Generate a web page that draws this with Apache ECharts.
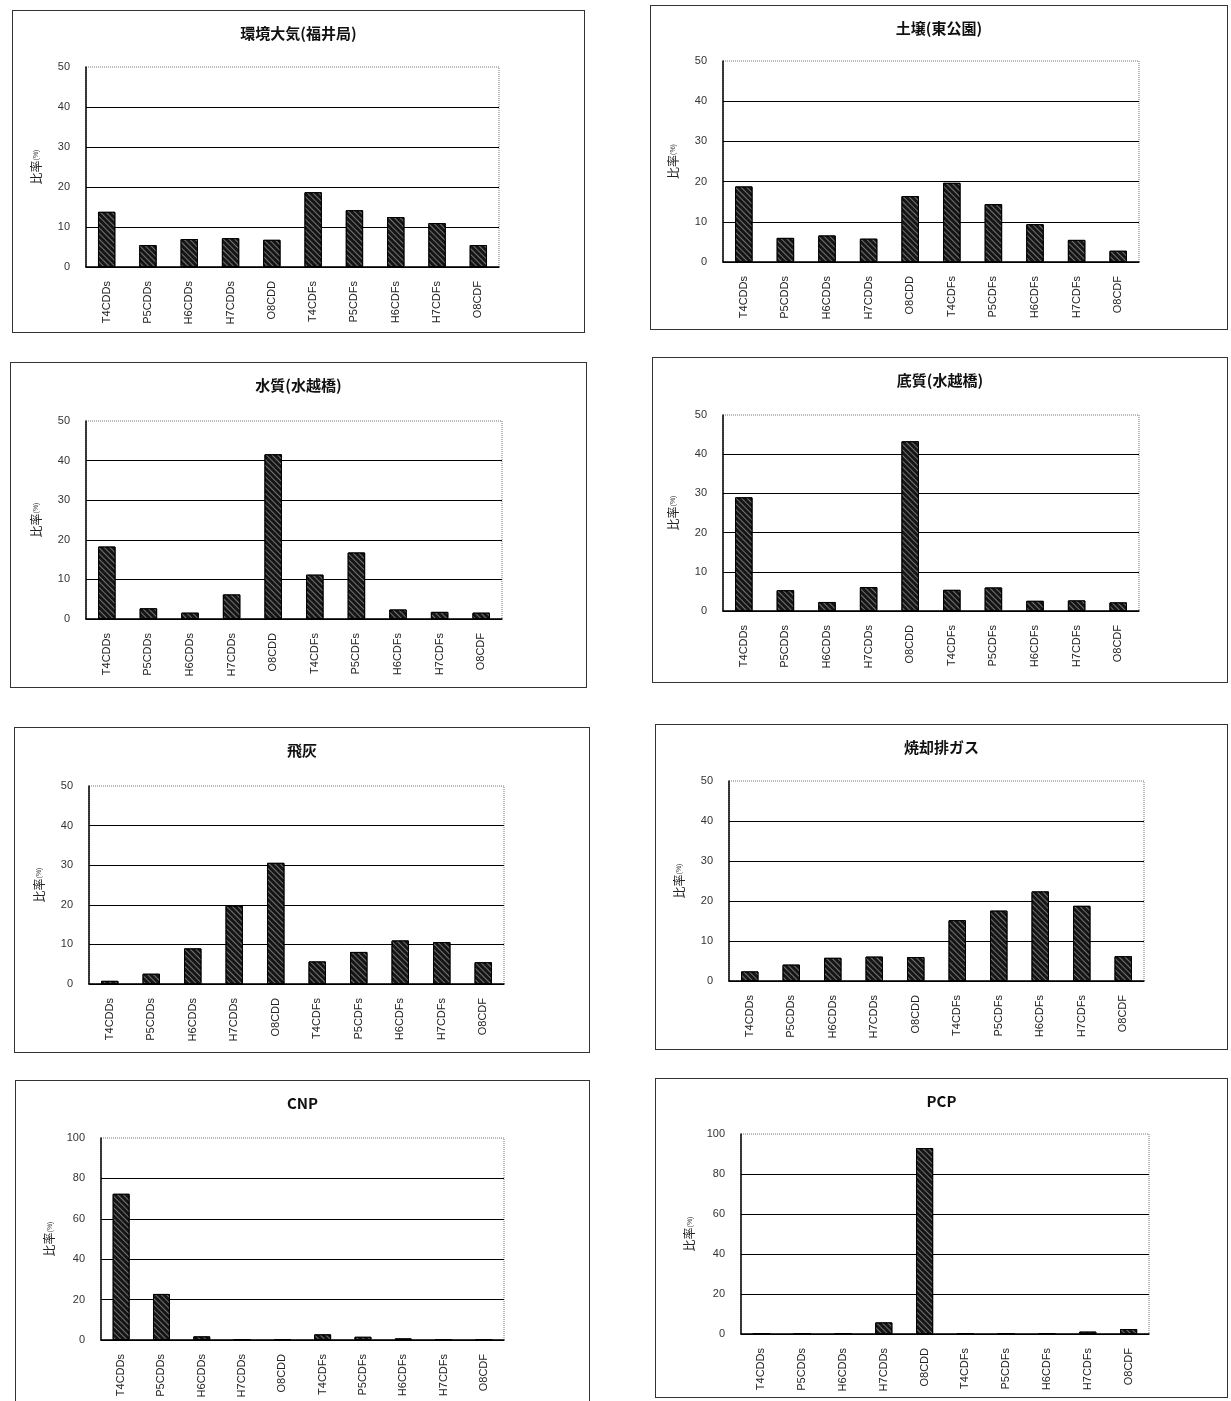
<!DOCTYPE html>
<html>
<head>
<meta charset="utf-8"/>
<title>ダイオキシン類 同族体組成</title>
<script src="https://cdn.jsdelivr.net/npm/echarts@6/dist/echarts.min.js"></script>
<style>
    body { margin:0; background:#fff; width:1231px; height:1401px; position:relative; overflow:hidden; }
    .panel { position:absolute; border:1px solid #333; box-sizing:border-box; background:#fff; }
</style>
</head>
<body>
<div class="panel" id="p0" style="left:12px;top:10px;width:573px;height:323px"></div>
<div class="panel" id="p1" style="left:650px;top:5px;width:578px;height:325px"></div>
<div class="panel" id="p2" style="left:10px;top:362px;width:577px;height:326px"></div>
<div class="panel" id="p3" style="left:652px;top:357px;width:576px;height:326px"></div>
<div class="panel" id="p4" style="left:14px;top:727px;width:576px;height:326px"></div>
<div class="panel" id="p5" style="left:655px;top:724px;width:573px;height:326px"></div>
<div class="panel" id="p6" style="left:15px;top:1080px;width:575px;height:330px"></div>
<div class="panel" id="p7" style="left:655px;top:1078px;width:573px;height:320px"></div>

<script type="text/javascript">
    // 同族体
    var categories = ['T4CDDs', 'P5CDDs', 'H6CDDs', 'H7CDDs', 'O8CDD', 'T4CDFs', 'P5CDFs', 'H6CDFs', 'H7CDFs', 'O8CDF'];
    var titles = ['環境大気(福井局)', '土壌(東公園)', '水質(水越橋)', '底質(水越橋)', '飛灰', '焼却排ガス', 'CNP', 'PCP'];

    // 比率(%)
    var airFukui = [13.8, 5.5, 7.0, 7.2, 6.8, 18.7, 14.2, 12.5, 11.0, 5.5];
    var soilHigashi = [18.8, 6.0, 6.6, 5.8, 16.4, 19.7, 14.4, 9.4, 5.5, 2.8];
    var waterMizukoshi = [18.3, 2.7, 1.6, 6.2, 41.6, 11.2, 16.8, 2.4, 1.8, 1.6];
    var sedimentMizukoshi = [29.0, 5.3, 2.3, 6.1, 43.3, 5.4, 6.0, 2.6, 2.7, 2.2];
    var flyAsh = [0.8, 2.6, 9.0, 19.8, 30.6, 5.7, 8.1, 11.0, 10.6, 5.5];
    var exhaustGas = [2.4, 4.1, 5.8, 6.1, 6.0, 15.2, 17.6, 22.4, 18.8, 6.2];
    var cnp = [72.4, 22.8, 1.8, 0.2, 0.1, 2.8, 1.6, 0.8, 0.1, 0.1];
    var pcp = [0.1, 0.1, 0.1, 5.8, 93.0, 0.2, 0.2, 0.3, 1.2, 2.5];

    // 縦軸
    var yMax = [50, 50, 50, 50, 50, 50, 100, 100];
    var yStep = [10, 10, 10, 10, 10, 10, 20, 20];

    var seriesData = [airFukui, soilHigashi, waterMizukoshi, sedimentMizukoshi, flyAsh, exhaustGas, cnp, pcp];

    // グラフ領域の余白 [left, right, top, bottom]
    var grids = [
        [73, 85, 56, 65],
        [72, 88, 55, 67],
        [75, 84, 58, 68],
        [70, 88, 57, 71],
        [74, 85, 58, 68],
        [73, 83, 56, 68],
        [85, 85, 57, 69],
        [85, 78, 55, 63]
    ];

    var font = '"Liberation Sans", Arial, sans-serif';

    for (var i = 0; i < seriesData.length; i++) {
        var chart = echarts.init(document.getElementById('p' + i), null, {renderer: 'canvas'});
        var g = grids[i];
        var option = {
            animation: false,
            title: {
                text: titles[i],
                left: 'center',
                top: 10,
                textStyle: {
                    fontFamily: '"Noto Sans CJK JP", sans-serif',
                    fontSize: 15,
                    fontWeight: 'bold',
                    color: '#111'
                }
            },
            grid: {
                left: g[0],
                right: g[1],
                top: g[2],
                bottom: g[3],
                show: true,
                borderColor: '#777',
                borderWidth: 1,
                borderType: 'dotted'
            },
            xAxis: {
                type: 'category',
                data: categories,
                axisLine: { lineStyle: { color: '#000', width: 1.5 } },
                axisTick: { show: false },
                axisLabel: {
                    rotate: 90,
                    margin: 14,
                    interval: 0,
                    fontFamily: font,
                    fontSize: 11,
                    color: '#222'
                }
            },
            yAxis: {
                type: 'value',
                min: 0,
                max: yMax[i],
                interval: yStep[i],
                name: '{a|比率}{b|(%)}',
                nameLocation: 'middle',
                nameGap: 44,
                nameRotate: 90,
                nameTextStyle: {
                    rich: {
                        a: { fontFamily: '"Noto Sans CJK JP", sans-serif', fontSize: 12, color: '#222' },
                        b: { fontFamily: font, fontSize: 7, color: '#444' }
                    }
                },
                axisLine: { show: true, lineStyle: { color: '#000', width: 1.5 } },
                axisTick: { show: false },
                axisLabel: { fontFamily: font, fontSize: 11, color: '#333', margin: 16 },
                splitLine: {
                    show: true,
                    showMaxLine: false,
                    lineStyle: { color: '#000', width: 1 }
                }
            },
            series: [{
                type: 'bar',
                data: seriesData[i],
                barWidth: '42%',
                itemStyle: {
                    color: '#151515',
                    borderColor: '#000',
                    borderWidth: 1,
                    decal: {
                        symbol: 'rect',
                        symbolSize: 1,
                        color: 'rgba(255,255,255,0.4)',
                        dashArrayX: [1, 0],
                        dashArrayY: [1, 3],
                        rotation: Math.PI / 4
                    }
                }
            }]
        };
        chart.setOption(option);
    }
</script>
</body>
</html>
